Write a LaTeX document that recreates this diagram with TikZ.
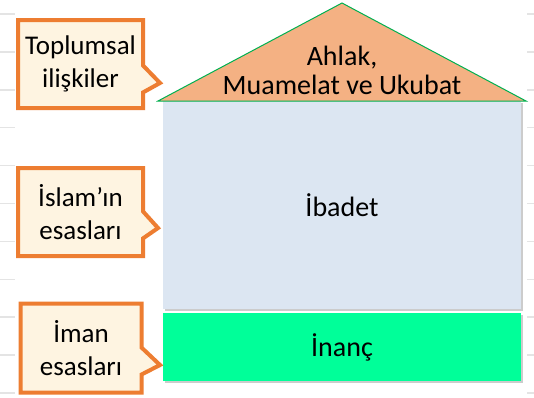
\documentclass[tikz,border=0pt]{standalone}
\usepackage{fontspec}
\setmainfont{Carlito}
\usetikzlibrary{shapes.callouts,shadows}
\definecolor{kenar}{HTML}{ED7D31}
\definecolor{krem}{HTML}{FEF4E1}
\definecolor{cati}{HTML}{F4B183}
\definecolor{catikenar}{HTML}{00B050}
\definecolor{govde}{HTML}{DCE6F2}
\definecolor{temel}{HTML}{00FF99}
\definecolor{cizgi}{HTML}{E4E4E4}
\begin{document}
\begin{tikzpicture}[x=1pt,y=-1pt,
    etiket/.style={rectangle callout,draw=kenar,fill=krem,line width=4pt,
      minimum width=125pt,minimum height=88pt,callout pointer width=27pt,
      align=center,inner sep=0pt,font=\fontsize{27}{33}\selectfont},
    kat/.style={fill=#1,minimum width=358pt,inner sep=0pt,
      font=\fontsize{28}{30}\selectfont,
      drop shadow={shadow xshift=2pt,shadow yshift=-2pt,opacity=.4}}]
			\useasboundingbox (0,0) rectangle (534,397);
			\fill[white] (0,0) rectangle (534,397);
			\foreach \y in {14,51.9,...,395} {
				\draw[cizgi,line width=1.5pt] (0,\y) -- (15,\y);
				\draw[cizgi,line width=1.5pt] (527,\y) -- (534,\y);
			}
			\node[kat=govde,minimum height=208pt] (ibadet) at (342,205) {İbadet};
			\node[kat=temel,minimum height=68pt] (inanc) at (342,347) {İnanç};
			\filldraw[fill=cati,draw=catikenar,line width=1pt] (158,101) -- (342,3) -- (526,101) -- cycle;
			\node[align=center,font=\fontsize{28}{29}\selectfont] (ahlak) at (342,70) {Ahlak,\\Muamelat ve Ukubat};
			\coordinate (u1) at (160,83);
			\coordinate (u2) at (158,228);
			\coordinate (u3) at (160,365);
			\node[etiket,callout absolute pointer={(u1)}] (toplum) at (80.5,64) {Toplumsal\\ilişkiler};
			\node[etiket,callout absolute pointer={(u2)}] (islam) at (80.5,212) {İslam’ın\\esasları};
			\node[etiket,callout absolute pointer={(u3)},minimum width=121pt,minimum height=89pt] (iman) at (81,348) {İman\\esasları};
		\end{tikzpicture}
\end{document}
